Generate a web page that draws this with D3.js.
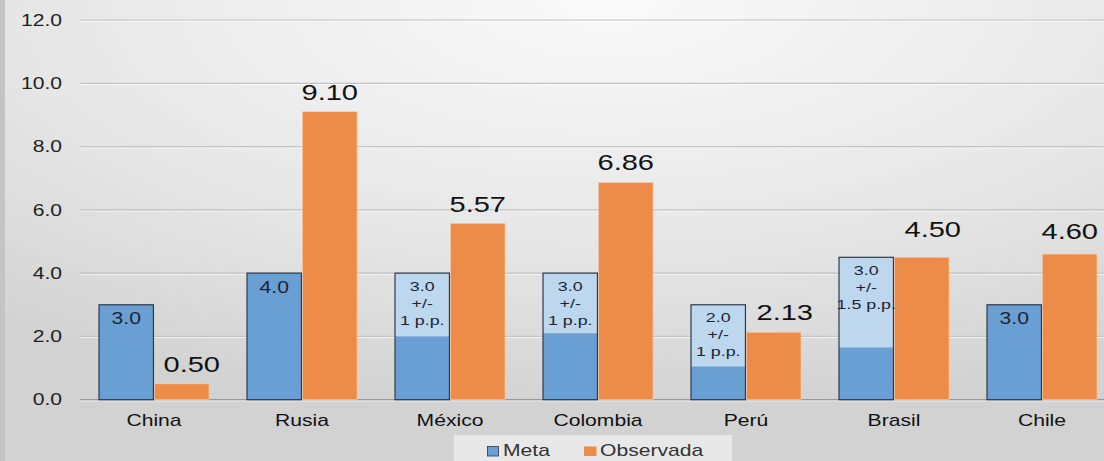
<!DOCTYPE html>
<html><head><meta charset="utf-8">
<script src="https://cdn.jsdelivr.net/npm/d3@7"></script>
<style>body{margin:0;overflow:hidden}svg{display:block;font-family:"Liberation Sans",Arial,sans-serif}</style>
</head><body><svg id="c" width="1104" height="461"></svg>
<script>
const categories = ["China","Rusia","México","Colombia","Perú","Brasil","Chile"];
const metaBase = [3.0, 4.0, 2.0, 2.1, 1.05, 1.65, 3.0];
const metaTop = [3.0, 4.0, 4.0, 4.0, 3.0, 4.5, 3.0];
const metaLabels = [["3.0"],["4.0"],["3.0","+/-","1 p.p."],["3.0","+/-","1 p.p."],["2.0","+/-","1 p.p."],["3.0","+/-","1.5 p.p."],["3.0"]];
const observada = [0.50, 9.10, 5.57, 6.86, 2.13, 4.50, 4.60];
const obsLabels = ["0.50","9.10","5.57","6.86","2.13","4.50","4.60"];
const yTicks = [0,2,4,6,8,10,12];
const legendLabels = ["Meta","Observada"];

// layout: label nudges (pixels) as placed in the original chart
const obsLabelLayout = {
  dx: [10, 0, 0, 0, 11, 11, 0],
  gap: [12, 12, 11, 13, 12, 20, 15]
};

const SX = 1.32; // horizontal stretch of the text in the reference
const tr = (x,y)=>`translate(${x},${y}) scale(${SX},1)`;

const svg = d3.select("#c");
const W = 1104, H = 461;
const defs = svg.append("defs");
const rg = defs.append("radialGradient").attr("id","bg").attr("cx","55%").attr("cy","0%").attr("r","90%")
  .attr("fx","55%").attr("fy","0%");
rg.append("stop").attr("offset","0%").attr("stop-color","#fafafa");
rg.append("stop").attr("offset","60%").attr("stop-color","#e6e6e6");
rg.append("stop").attr("offset","100%").attr("stop-color","#d2d2d2");
svg.append("rect").attr("width",W).attr("height",H).attr("fill","url(#bg)");
svg.append("rect").attr("width",5).attr("height",H).attr("fill","#c4c4c4");

const y = d3.scaleLinear().domain([0,12]).range([399.7,20]);
const x = d3.scaleBand().domain(categories).range([80,1116]).paddingInner(0.257).paddingOuter(0.1285);
const x1 = d3.scaleBand().domain(["meta","obs"]).range([0,x.bandwidth()]).paddingInner(0.02);

// gridlines
const gl = svg.append("g");
gl.selectAll("line.hl").data(yTicks).join("line").attr("class","hl")
  .attr("x1",80).attr("x2",W).attr("y1",d=>y(d)+1.2).attr("y2",d=>y(d)+1.2)
  .attr("stroke","#ffffff").attr("stroke-opacity",0.7).attr("stroke-width",1);
gl.selectAll("line.gl").data(yTicks).join("line").attr("class","gl")
  .attr("x1",80).attr("x2",W).attr("y1",d=>y(d)).attr("y2",d=>y(d))
  .attr("stroke",d=>d===0?"#9a9a9a":"#c2c2c2").attr("stroke-width",1.2);

// y axis labels
svg.append("g").selectAll("text").data(yTicks).join("text")
  .attr("transform",d=>tr(62,y(d))).attr("dy","0.36em").attr("text-anchor","end")
  .attr("font-size",16).attr("fill","#222").text(d=>d.toFixed(1));

const g = svg.append("g").selectAll("g").data(categories).join("g")
  .attr("transform",d=>`translate(${x(d)},0)`);

// meta light (range) part
g.append("rect").attr("x",x1("meta")).attr("width",x1.bandwidth())
  .attr("y",(d,i)=>y(metaTop[i])).attr("height",(d,i)=>y(0)-y(metaTop[i]))
  .attr("fill","#bdd7ee");
// meta dark base
g.append("rect").attr("x",x1("meta")).attr("width",x1.bandwidth())
  .attr("y",(d,i)=>y(metaBase[i])).attr("height",(d,i)=>y(0)-y(metaBase[i]))
  .attr("fill","#6a9fd4");
// outline
g.append("rect").attr("x",x1("meta")).attr("width",x1.bandwidth())
  .attr("y",(d,i)=>y(metaTop[i])).attr("height",(d,i)=>y(0)-y(metaTop[i]))
  .attr("fill","none").attr("stroke","#2c3a4c").attr("stroke-width",1.2);
// observada
g.append("rect").attr("x",x1("obs")).attr("width",x1.bandwidth())
  .attr("y",(d,i)=>y(observada[i])).attr("height",(d,i)=>y(0)-y(observada[i]))
  .attr("fill","#ed8b48").attr("stroke","#f4c8a8").attr("stroke-width",0.6);

// observada labels
g.append("text").attr("transform",(d,i)=>tr(x1("obs")+x1.bandwidth()/2+obsLabelLayout.dx[i], y(observada[i])-obsLabelLayout.gap[i]))
  .attr("text-anchor","middle").attr("font-size",22).attr("fill","#111").text((d,i)=>obsLabels[i]);

// meta labels
g.each(function(d,i){
  const lines = metaLabels[i];
  const multi = lines.length>1;
  const t = d3.select(this).append("text").attr("text-anchor","middle")
    .attr("transform",tr(x1("meta")+x1.bandwidth()/2, y(metaTop[i])+(multi?17.5:19.5)))
    .attr("font-size",multi?13.5:16).attr("fill","#1a2433");
  lines.forEach((l,k)=>{
    t.append("tspan").attr("x",0).attr("y",k*17).text(l);
  });
});

// category labels
svg.append("g").selectAll("text").data(categories).join("text")
  .attr("transform",d=>tr(x(d)+x.bandwidth()/2,426)).attr("text-anchor","middle")
  .attr("font-size",16).attr("fill","#111").text(d=>d);

// legend
const lg = svg.append("g");
lg.append("rect").attr("x",454).attr("y",435).attr("width",278).attr("height",26).attr("fill","#ececec").attr("opacity",0.85);
lg.append("rect").attr("x",487.5).attr("y",446.5).attr("width",11).attr("height",9.5).attr("fill","#6a9fd4").attr("stroke","#2c3a4c").attr("stroke-width",0.8);
lg.append("text").attr("transform",tr(503,456)).attr("font-size",16).attr("fill","#333").text(legendLabels[0]);
lg.append("rect").attr("x",584).attr("y",446.5).attr("width",12.5).attr("height",9.5).attr("fill","#ed8b48");
lg.append("text").attr("transform",tr(600,456)).attr("font-size",16).attr("fill","#333").text(legendLabels[1]);
</script></body></html>
